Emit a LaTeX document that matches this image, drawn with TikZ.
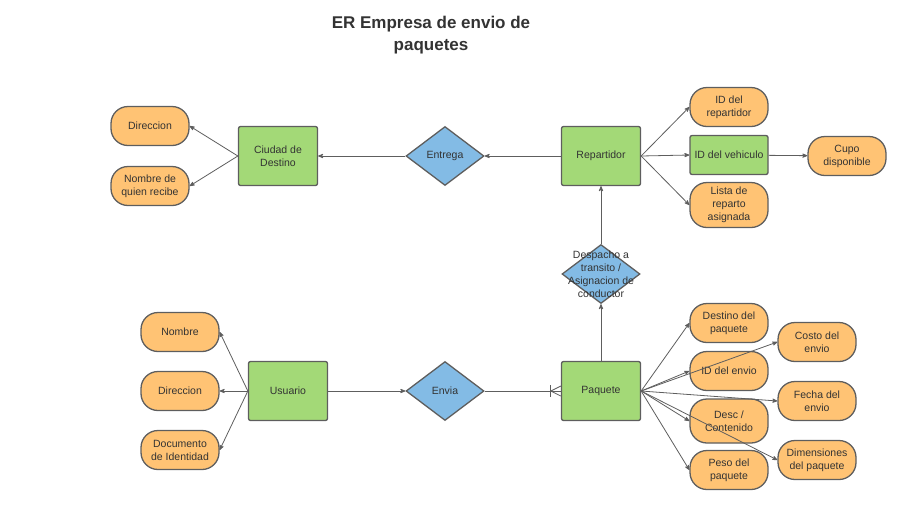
\documentclass[tikz,border=0pt]{standalone}
\usepackage{fontspec}
\setmainfont{Liberation Sans}
\usetikzlibrary{arrows,shapes.geometric}
\definecolor{attrorange}{HTML}{FFC374}
\definecolor{entgreen}{HTML}{A3D977}
\definecolor{relblue}{HTML}{83BBE5}
\definecolor{linegray}{HTML}{5E5E5E}
\definecolor{txtgray}{HTML}{333333}
\tikzstyle{entity}   = [draw=linegray,fill=entgreen,line width=1.3pt,rounded corners=2pt,minimum width=79pt,minimum height=59pt,align=center,text=txtgray]
\tikzstyle{attrib}   = [draw=linegray,fill=attrorange,line width=1.3pt,rounded corners=17pt,minimum width=78pt,minimum height=39pt,align=center,text=txtgray]
\tikzstyle{relation} = [draw=linegray,fill=relblue,line width=1.3pt,diamond,minimum width=78pt,minimum height=59pt,inner sep=0pt,text=txtgray]

\begin{document}
\begin{tikzpicture}[x=1pt,y=-1pt,->,>=stealth',draw=linegray,line width=0.8pt,font=\fontsize{10.5}{13}\selectfont]
\path[use as bounding box] (0,0) rectangle (899,515);

\node[text=txtgray,align=center,font=\fontsize{17}{22}\selectfont\bfseries] (titulo) at (431,35) {ER Empresa de envio de\\paquetes};

% entidades
\node[entity] (ciudad)     at (278,156) {Ciudad de\\Destino};
\node[entity] (repartidor) at (601,156) {Repartidor};
\node[entity] (paquete)    at (601,391) {Paquete};
\node[entity] (usuario)    at (288,391) {Usuario};
\node[entity,minimum width=78pt,minimum height=39pt] (vehiculo) at (729,155) {ID del vehiculo};

% relaciones
\node[relation] (entrega) at (445,156) {Entrega};
\node[relation] (envia)   at (445,391) {Envia};
\node[relation,label={[align=center,text=txtgray]center:Despacho a\\transito /\\Asignacion de\\conductor}] (despacho) at (601,274) {};

% atributos
\node[attrib] (dirdestino) at (150,126) {Direccion};
\node[attrib] (receptor)   at (150,186) {Nombre de\\quien recibe};
\node[attrib] (idrep)      at (729,107) {ID del\\repartidor};
\node[attrib] (cupo)       at (847,156) {Cupo\\disponible};
\node[attrib,minimum height=45pt] (lista) at (729,205) {Lista de\\reparto\\asignada};
\node[attrib] (destino)    at (729,323) {Destino del\\paquete};
\node[attrib] (idenvio)    at (729,371) {ID del envio};
\node[attrib,minimum height=44pt] (desc) at (729,421) {Desc /\\Contenido};
\node[attrib] (peso)       at (729,470) {Peso del\\paquete};
\node[attrib] (costo)      at (817,342) {Costo del\\envio};
\node[attrib] (fecha)      at (817,401) {Fecha del\\envio};
\node[attrib] (dimension)  at (817,460) {Dimensiones\\del paquete};
\node[attrib] (nombre)     at (180,332) {Nombre};
\node[attrib] (dirusuario) at (180,391) {Direccion};
\node[attrib] (documento)  at (180,450) {Documento\\de Identidad};

\path
    (ciudad.west)     edge (dirdestino.east)
    (ciudad.west)     edge (receptor.east)
    (entrega)         edge (ciudad)
    (repartidor)      edge (entrega)
    (despacho)        edge (repartidor)
    (paquete)         edge (despacho)
    (usuario)         edge (envia);
\path
    (repartidor.east) edge (idrep.west)
    (repartidor.east) edge (vehiculo.west)
    (repartidor.east) edge (lista.west)
    (vehiculo)        edge (cupo);
\path
    (paquete.east)    edge (destino.west)
    (paquete.east)    edge (idenvio.west)
    (paquete.east)    edge (desc.west)
    (paquete.east)    edge (peso.west)
    (paquete.east)    edge (costo.west)
    (paquete.east)    edge (fecha.west)
    (paquete.east)    edge (dimension.west);
\path
    (usuario.west)    edge (nombre.east)
    (usuario.west)    edge (dirusuario.east)
    (usuario.west)    edge (documento.east);

% muchos (pata de gallo)
\coordinate (pata) at ([xshift=-10pt]paquete.west);
\draw[-] (envia) -- (paquete);
\draw[-] (pata) -- ([yshift=5pt]paquete.west);
\draw[-] (pata) -- ([yshift=-5pt]paquete.west);
\draw[-] ([yshift=6pt]pata) -- ([yshift=-6pt]pata);
\end{tikzpicture}
\end{document}
